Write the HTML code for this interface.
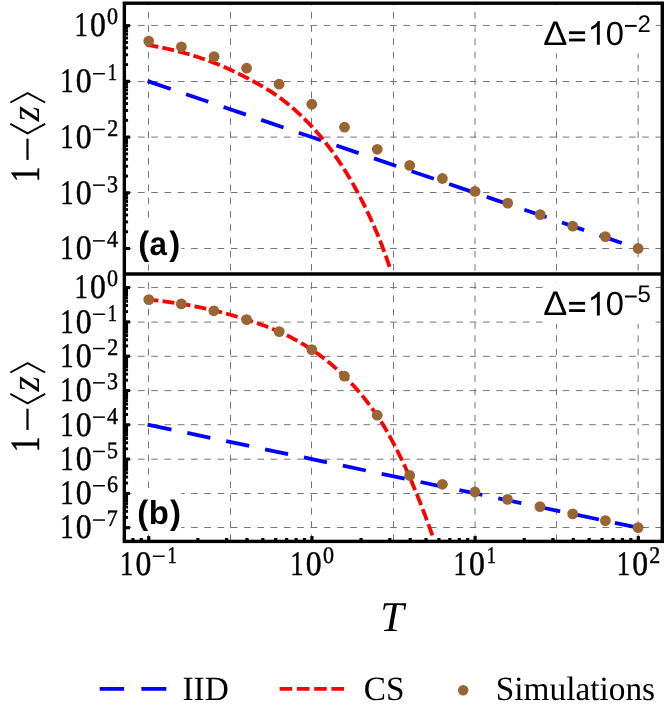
<!DOCTYPE html>
<html>
<head>
<meta charset="utf-8">
<title>Chart</title>
<style>
html, body { margin: 0; padding: 0; background: #ffffff; }
body { width: 664px; height: 719px; overflow: hidden; font-family: "Liberation Serif", serif; }
svg { display: block; will-change: transform; }
</style>
</head>
<body>
<svg width="664" height="719" viewBox="0 0 664 719" text-rendering="geometricPrecision">
<rect x="0" y="0" width="664" height="719" fill="#ffffff"/>
<g stroke="#767676" stroke-width="1" stroke-dasharray="6.7 6.57" fill="none">
<line x1="124.65" y1="25.45" x2="662.30" y2="25.45"/>
<line x1="124.65" y1="81.50" x2="662.30" y2="81.50"/>
<line x1="124.65" y1="137.10" x2="662.30" y2="137.10"/>
<line x1="124.65" y1="192.50" x2="662.30" y2="192.50"/>
<line x1="124.65" y1="248.50" x2="662.30" y2="248.50"/>
<line x1="124.65" y1="287.45" x2="662.30" y2="287.45"/>
<line x1="124.65" y1="322.10" x2="662.30" y2="322.10"/>
<line x1="124.65" y1="356.30" x2="662.30" y2="356.30"/>
<line x1="124.65" y1="390.60" x2="662.30" y2="390.60"/>
<line x1="124.65" y1="424.70" x2="662.30" y2="424.70"/>
<line x1="124.65" y1="459.20" x2="662.30" y2="459.20"/>
<line x1="124.65" y1="493.50" x2="662.30" y2="493.50"/>
<line x1="124.65" y1="527.50" x2="662.30" y2="527.50"/>
<line x1="148.47" y1="3.20" x2="148.47" y2="274.00" stroke-dashoffset="4.57"/>
<line x1="148.47" y1="274.00" x2="148.47" y2="541.40" stroke-dashoffset="4.97"/>
<line x1="230.48" y1="3.20" x2="230.48" y2="274.00" stroke-dashoffset="4.57"/>
<line x1="230.48" y1="274.00" x2="230.48" y2="541.40" stroke-dashoffset="4.97"/>
<line x1="311.50" y1="3.20" x2="311.50" y2="274.00" stroke-dashoffset="4.57"/>
<line x1="311.50" y1="274.00" x2="311.50" y2="541.40" stroke-dashoffset="4.97"/>
<line x1="393.47" y1="3.20" x2="393.47" y2="274.00" stroke-dashoffset="4.57"/>
<line x1="393.47" y1="274.00" x2="393.47" y2="541.40" stroke-dashoffset="4.97"/>
<line x1="475.00" y1="3.20" x2="475.00" y2="274.00" stroke-dashoffset="4.57"/>
<line x1="475.00" y1="274.00" x2="475.00" y2="541.40" stroke-dashoffset="4.97"/>
<line x1="556.46" y1="3.20" x2="556.46" y2="274.00" stroke-dashoffset="4.57"/>
<line x1="556.46" y1="274.00" x2="556.46" y2="541.40" stroke-dashoffset="4.97"/>
<line x1="638.15" y1="3.20" x2="638.15" y2="274.00" stroke-dashoffset="4.57"/>
<line x1="638.15" y1="274.00" x2="638.15" y2="541.40" stroke-dashoffset="4.97"/>
</g>
<g fill="none" stroke-width="3.8" stroke-linecap="square">
<path d="M147.60 81.08 L149.45 81.71" stroke="#0000ff" stroke-linecap="butt"/>
<path d="M148.45 81.37 L637.99 248.53" stroke="#0000ff" stroke-linecap="butt" stroke-dasharray="23.5 16.22"/>
<path d="M147.57 424.61 L149.45 425.01" stroke="#0000ff" stroke-linecap="butt"/>
<path d="M148.45 424.80 L637.99 527.70" stroke="#0000ff" stroke-linecap="butt" stroke-dasharray="23.5 16.22"/>
<path d="M148.45 45.14 L149.18 45.26 L149.90 45.38 L150.63 45.50 L151.35 45.62 L152.08 45.75 L152.80 45.87 L153.53 46.00 L154.25 46.13 L154.98 46.27 L155.70 46.40 L156.43 46.54 L157.15 46.68 L157.88 46.82 L158.60 46.96 L159.33 47.10 L160.05 47.25 L160.78 47.39 L161.50 47.54 L162.23 47.69 L162.95 47.85 L163.68 48.00 L164.40 48.16 L165.13 48.31 L165.85 48.47 L166.58 48.63 L167.30 48.79 L168.03 48.96 L168.75 49.12 L169.48 49.29 L170.20 49.46 L170.93 49.63 L171.65 49.80 L172.38 49.97 L173.10 50.14 L173.83 50.32 L174.55 50.49 L175.28 50.67 L176.00 50.85 L176.73 51.03 L177.45 51.21 L178.18 51.39 L178.90 51.57 L179.63 51.76 L180.35 51.94 L181.08 52.13 L181.80 52.32 L182.53 52.51 L183.26 52.70 L183.98 52.89 L184.71 53.09 L185.43 53.29 L186.16 53.49 L186.88 53.70 L187.61 53.91 L188.33 54.11 L189.06 54.33 L189.78 54.54 L190.51 54.76 L191.23 54.97 L191.96 55.19 L192.68 55.42 L193.41 55.64 L194.13 55.87 L194.86 56.09 L195.58 56.32 L196.31 56.56 L197.03 56.79 L197.76 57.03 L198.48 57.27 L199.21 57.51 L199.93 57.75 L200.66 57.99 L201.38 58.24 L202.11 58.49 L202.83 58.74 L203.56 58.99 L204.28 59.24 L205.01 59.50 L205.73 59.75 L206.46 60.01 L207.18 60.27 L207.91 60.53 L208.63 60.80 L209.36 61.06 L210.08 61.33 L210.81 61.60 L211.53 61.87 L212.26 62.14 L212.98 62.41 L213.71 62.68 L214.43 62.96 L215.16 63.24 L215.89 63.52 L216.61 63.81 L217.34 64.10 L218.06 64.39 L218.79 64.68 L219.51 64.98 L220.24 65.28 L220.96 65.58 L221.69 65.89 L222.41 66.20 L223.14 66.51 L223.86 66.82 L224.59 67.14 L225.31 67.46 L226.04 67.78 L226.76 68.10 L227.49 68.43 L228.21 68.75 L228.94 69.09 L229.66 69.42 L230.39 69.75 L231.11 70.09 L231.84 70.43 L232.56 70.77 L233.29 71.12 L234.01 71.46 L234.74 71.81 L235.46 72.16 L236.19 72.51 L236.91 72.87 L237.64 73.22 L238.36 73.58 L239.09 73.94 L239.81 74.30 L240.54 74.66 L241.26 75.03 L241.99 75.39 L242.71 75.76 L243.44 76.13 L244.16 76.50 L244.89 76.88 L245.61 77.25 L246.34 77.62 L247.06 78.00 L247.79 78.38 L248.51 78.76 L249.24 79.14 L249.97 79.52 L250.69 79.90 L251.42 80.29 L252.14 80.68 L252.87 81.07 L253.59 81.46 L254.32 81.85 L255.04 82.25 L255.77 82.65 L256.49 83.05 L257.22 83.45 L257.94 83.86 L258.67 84.26 L259.39 84.67 L260.12 85.09 L260.84 85.50 L261.57 85.92 L262.29 86.35 L263.02 86.77 L263.74 87.20 L264.47 87.63 L265.19 88.07 L265.92 88.51 L266.64 88.95 L267.37 89.40 L268.09 89.85 L268.82 90.30 L269.54 90.76 L270.27 91.22 L270.99 91.69 L271.72 92.16 L272.44 92.63 L273.17 93.11 L273.89 93.59 L274.62 94.08 L275.34 94.57 L276.07 95.07 L276.79 95.57 L277.52 96.08 L278.24 96.59 L278.97 97.11 L279.69 97.63 L280.42 98.16 L281.14 98.70 L281.87 99.24 L282.60 99.78 L283.32 100.34 L284.05 100.89 L284.77 101.46 L285.50 102.03 L286.22 102.60 L286.95 103.19 L287.67 103.77 L288.40 104.37 L289.12 104.97 L289.85 105.57 L290.57 106.18 L291.30 106.80 L292.02 107.42 L292.75 108.05 L293.47 108.68 L294.20 109.32 L294.92 109.97 L295.65 110.62 L296.37 111.28 L297.10 111.94 L297.82 112.61 L298.55 113.28 L299.27 113.96 L300.00 114.64 L300.72 115.33 L301.45 116.03 L302.17 116.73 L302.90 117.44 L303.62 118.15 L304.35 118.87 L305.07 119.59 L305.80 120.32 L306.52 121.05 L307.25 121.79 L307.97 122.53 L308.70 123.28 L309.42 124.04 L310.15 124.80 L310.87 125.56 L311.60 126.34 L312.32 127.11 L313.05 127.90 L313.77 128.69 L314.50 129.49 L315.22 130.30 L315.95 131.12 L316.68 131.95 L317.40 132.78 L318.13 133.62 L318.85 134.47 L319.58 135.33 L320.30 136.20 L321.03 137.07 L321.75 137.96 L322.48 138.85 L323.20 139.75 L323.93 140.65 L324.65 141.57 L325.38 142.49 L326.10 143.42 L326.83 144.36 L327.55 145.31 L328.28 146.27 L329.00 147.23 L329.73 148.20 L330.45 149.18 L331.18 150.17 L331.90 151.17 L332.63 152.17 L333.35 153.18 L334.08 154.21 L334.80 155.24 L335.53 156.27 L336.25 157.32 L336.98 158.37 L337.70 159.43 L338.43 160.50 L339.15 161.58 L339.88 162.67 L340.60 163.76 L341.33 164.87 L342.05 165.98 L342.78 167.10 L343.50 168.22 L344.23 169.36 L344.95 170.50 L345.68 171.66 L346.40 172.83 L347.13 174.01 L347.85 175.20 L348.58 176.40 L349.30 177.61 L350.03 178.83 L350.76 180.07 L351.48 181.32 L352.21 182.58 L352.93 183.85 L353.66 185.13 L354.38 186.43 L355.11 187.73 L355.83 189.05 L356.56 190.38 L357.28 191.72 L358.01 193.08 L358.73 194.45 L359.46 195.83 L360.18 197.22 L360.91 198.62 L361.63 200.04 L362.36 201.47 L363.08 202.91 L363.81 204.37 L364.53 205.84 L365.26 207.32 L365.98 208.81 L366.71 210.32 L367.43 211.84 L368.16 213.38 L368.88 214.92 L369.61 216.48 L370.33 218.06 L371.06 219.64 L371.78 221.24 L372.51 222.86 L373.23 224.49 L373.96 226.13 L374.68 227.78 L375.41 229.45 L376.13 231.14 L376.86 232.83 L377.58 234.55 L378.31 236.30 L379.03 238.08 L379.76 239.88 L380.48 241.72 L381.21 243.58 L381.93 245.47 L382.66 247.38 L383.39 249.32 L384.11 251.29 L384.84 253.28 L385.56 255.29 L386.29 257.33 L387.01 259.39 L387.74 261.47 L388.46 263.57 L389.19 265.70 L389.91 267.84 L390.64 270.00 L391.13 271.50" stroke="#ff0000" stroke-dasharray="8.100000000000001 7.97" stroke-dashoffset="0"/>
<path d="M148.45 299.60 L149.18 299.67 L149.90 299.74 L150.63 299.82 L151.35 299.89 L152.08 299.97 L152.80 300.05 L153.53 300.13 L154.25 300.21 L154.98 300.29 L155.70 300.37 L156.43 300.46 L157.15 300.54 L157.88 300.63 L158.60 300.72 L159.33 300.81 L160.05 300.89 L160.78 300.99 L161.50 301.08 L162.23 301.17 L162.95 301.26 L163.68 301.36 L164.40 301.45 L165.13 301.55 L165.85 301.65 L166.58 301.75 L167.30 301.85 L168.03 301.95 L168.75 302.05 L169.48 302.15 L170.20 302.25 L170.93 302.36 L171.65 302.46 L172.38 302.57 L173.10 302.68 L173.83 302.78 L174.55 302.89 L175.28 303.00 L176.00 303.11 L176.73 303.22 L177.45 303.33 L178.18 303.44 L178.90 303.56 L179.63 303.67 L180.35 303.78 L181.08 303.90 L181.80 304.01 L182.53 304.13 L183.26 304.25 L183.98 304.37 L184.71 304.49 L185.43 304.62 L186.16 304.74 L186.88 304.87 L187.61 304.99 L188.33 305.12 L189.06 305.25 L189.78 305.38 L190.51 305.52 L191.23 305.65 L191.96 305.79 L192.68 305.92 L193.41 306.06 L194.13 306.20 L194.86 306.34 L195.58 306.48 L196.31 306.63 L197.03 306.77 L197.76 306.92 L198.48 307.06 L199.21 307.21 L199.93 307.36 L200.66 307.51 L201.38 307.66 L202.11 307.81 L202.83 307.97 L203.56 308.12 L204.28 308.28 L205.01 308.44 L205.73 308.59 L206.46 308.75 L207.18 308.91 L207.91 309.07 L208.63 309.24 L209.36 309.40 L210.08 309.56 L210.81 309.73 L211.53 309.89 L212.26 310.06 L212.98 310.23 L213.71 310.40 L214.43 310.57 L215.16 310.74 L215.89 310.91 L216.61 311.09 L217.34 311.27 L218.06 311.45 L218.79 311.63 L219.51 311.81 L220.24 312.00 L220.96 312.18 L221.69 312.37 L222.41 312.56 L223.14 312.75 L223.86 312.94 L224.59 313.14 L225.31 313.33 L226.04 313.53 L226.76 313.73 L227.49 313.93 L228.21 314.13 L228.94 314.34 L229.66 314.54 L230.39 314.75 L231.11 314.96 L231.84 315.17 L232.56 315.38 L233.29 315.59 L234.01 315.80 L234.74 316.02 L235.46 316.23 L236.19 316.45 L236.91 316.67 L237.64 316.88 L238.36 317.10 L239.09 317.33 L239.81 317.55 L240.54 317.77 L241.26 318.00 L241.99 318.22 L242.71 318.45 L243.44 318.68 L244.16 318.90 L244.89 319.13 L245.61 319.36 L246.34 319.59 L247.06 319.83 L247.79 320.06 L248.51 320.29 L249.24 320.53 L249.97 320.76 L250.69 321.00 L251.42 321.24 L252.14 321.47 L252.87 321.71 L253.59 321.95 L254.32 322.20 L255.04 322.44 L255.77 322.69 L256.49 322.93 L257.22 323.18 L257.94 323.43 L258.67 323.68 L259.39 323.93 L260.12 324.19 L260.84 324.45 L261.57 324.70 L262.29 324.96 L263.02 325.23 L263.74 325.49 L264.47 325.76 L265.19 326.02 L265.92 326.29 L266.64 326.57 L267.37 326.84 L268.09 327.12 L268.82 327.40 L269.54 327.68 L270.27 327.96 L270.99 328.25 L271.72 328.54 L272.44 328.83 L273.17 329.13 L273.89 329.43 L274.62 329.73 L275.34 330.03 L276.07 330.33 L276.79 330.64 L277.52 330.96 L278.24 331.27 L278.97 331.59 L279.69 331.91 L280.42 332.24 L281.14 332.57 L281.87 332.90 L282.60 333.23 L283.32 333.57 L284.05 333.92 L284.77 334.27 L285.50 334.62 L286.22 334.97 L286.95 335.33 L287.67 335.69 L288.40 336.06 L289.12 336.43 L289.85 336.80 L290.57 337.17 L291.30 337.55 L292.02 337.94 L292.75 338.32 L293.47 338.71 L294.20 339.11 L294.92 339.51 L295.65 339.91 L296.37 340.31 L297.10 340.72 L297.82 341.13 L298.55 341.54 L299.27 341.96 L300.00 342.38 L300.72 342.81 L301.45 343.24 L302.17 343.67 L302.90 344.10 L303.62 344.54 L304.35 344.98 L305.07 345.43 L305.80 345.87 L306.52 346.33 L307.25 346.78 L307.97 347.24 L308.70 347.70 L309.42 348.17 L310.15 348.63 L310.87 349.11 L311.60 349.58 L312.32 350.06 L313.05 350.54 L313.77 351.03 L314.50 351.52 L315.22 352.02 L315.95 352.53 L316.68 353.03 L317.40 353.55 L318.13 354.07 L318.85 354.59 L319.58 355.12 L320.30 355.65 L321.03 356.19 L321.75 356.73 L322.48 357.28 L323.20 357.83 L323.93 358.39 L324.65 358.96 L325.38 359.52 L326.10 360.10 L326.83 360.68 L327.55 361.26 L328.28 361.85 L329.00 362.44 L329.73 363.04 L330.45 363.64 L331.18 364.25 L331.90 364.87 L332.63 365.48 L333.35 366.11 L334.08 366.74 L334.80 367.37 L335.53 368.01 L336.25 368.65 L336.98 369.30 L337.70 369.95 L338.43 370.61 L339.15 371.28 L339.88 371.95 L340.60 372.62 L341.33 373.30 L342.05 373.98 L342.78 374.67 L343.50 375.37 L344.23 376.06 L344.95 376.77 L345.68 377.48 L346.40 378.20 L347.13 378.93 L347.85 379.66 L348.58 380.40 L349.30 381.14 L350.03 381.90 L350.76 382.66 L351.48 383.43 L352.21 384.20 L352.93 384.98 L353.66 385.77 L354.38 386.57 L355.11 387.37 L355.83 388.19 L356.56 389.00 L357.28 389.83 L358.01 390.67 L358.73 391.51 L359.46 392.36 L360.18 393.21 L360.91 394.08 L361.63 394.95 L362.36 395.83 L363.08 396.72 L363.81 397.62 L364.53 398.52 L365.26 399.43 L365.98 400.35 L366.71 401.28 L367.43 402.22 L368.16 403.16 L368.88 404.11 L369.61 405.07 L370.33 406.04 L371.06 407.02 L371.78 408.00 L372.51 409.00 L373.23 410.00 L373.96 411.01 L374.68 412.03 L375.41 413.06 L376.13 414.09 L376.86 415.14 L377.58 416.20 L378.31 417.27 L379.03 418.37 L379.76 419.48 L380.48 420.61 L381.21 421.75 L381.93 422.92 L382.66 424.09 L383.39 425.29 L384.11 426.50 L384.84 427.72 L385.56 428.96 L386.29 430.22 L387.01 431.48 L387.74 432.77 L388.46 434.06 L389.19 435.37 L389.91 436.69 L390.64 438.02 L391.36 439.36 L392.09 440.71 L392.81 442.08 L393.54 443.46 L394.26 444.84 L394.99 446.24 L395.71 447.64 L396.44 449.05 L397.16 450.48 L397.89 451.91 L398.61 453.35 L399.34 454.79 L400.06 456.25 L400.79 457.71 L401.51 459.17 L402.24 460.66 L402.96 462.16 L403.69 463.69 L404.41 465.25 L405.14 466.82 L405.86 468.42 L406.59 470.03 L407.31 471.67 L408.04 473.32 L408.76 474.98 L409.49 476.66 L410.21 478.36 L410.94 480.06 L411.66 481.78 L412.39 483.51 L413.11 485.25 L413.84 487.00 L414.56 488.75 L415.29 490.52 L416.01 492.28 L416.74 494.05 L417.47 495.84 L418.19 497.64 L418.92 499.45 L419.64 501.28 L420.37 503.12 L421.09 504.97 L421.82 506.84 L422.54 508.72 L423.27 510.62 L423.99 512.52 L424.72 514.44 L425.44 516.38 L426.17 518.32 L426.89 520.27 L427.62 522.24 L428.34 524.22 L429.07 526.21 L429.79 528.21 L430.52 530.22 L431.24 532.26 L431.97 534.32 L432.69 536.39 L433.42 538.49 L433.46 538.60" stroke="#ff0000" stroke-dasharray="8.100000000000001 8.070" stroke-dashoffset="0"/>
</g>
<g fill="#996633">
<circle cx="148.7" cy="41.1" r="5.4"/>
<circle cx="181.4" cy="46.8" r="5.4"/>
<circle cx="214.1" cy="56.6" r="5.4"/>
<circle cx="246.6" cy="68.2" r="5.4"/>
<circle cx="279.1" cy="84.2" r="5.4"/>
<circle cx="311.8" cy="104.2" r="5.4"/>
<circle cx="344.5" cy="127.2" r="5.4"/>
<circle cx="377.3" cy="149.3" r="5.4"/>
<circle cx="409.7" cy="165.4" r="5.4"/>
<circle cx="442.4" cy="178.5" r="5.4"/>
<circle cx="475.0" cy="191.4" r="5.4"/>
<circle cx="507.7" cy="203.1" r="5.4"/>
<circle cx="540.2" cy="214.6" r="5.4"/>
<circle cx="572.7" cy="226.1" r="5.4"/>
<circle cx="605.4" cy="236.6" r="5.4"/>
<circle cx="638.1" cy="248.5" r="5.4"/>
<circle cx="148.8" cy="299.6" r="5.4"/>
<circle cx="181.3" cy="303.9" r="5.4"/>
<circle cx="213.8" cy="310.8" r="5.4"/>
<circle cx="246.6" cy="319.6" r="5.4"/>
<circle cx="279.2" cy="331.6" r="5.4"/>
<circle cx="311.8" cy="349.6" r="5.4"/>
<circle cx="344.4" cy="376.1" r="5.4"/>
<circle cx="377.2" cy="415.2" r="5.4"/>
<circle cx="409.7" cy="475.4" r="5.4"/>
<circle cx="442.4" cy="484.3" r="5.4"/>
<circle cx="474.9" cy="492.0" r="5.4"/>
<circle cx="507.5" cy="499.4" r="5.4"/>
<circle cx="540.0" cy="506.6" r="5.4"/>
<circle cx="572.7" cy="513.9" r="5.4"/>
<circle cx="605.4" cy="520.6" r="5.4"/>
<circle cx="638.1" cy="527.6" r="5.4"/>
</g>
<g fill="#ffffff">
<rect x="133" y="221.5" width="48.3" height="43"/>
<rect x="133" y="489.9" width="48.3" height="43"/>
<rect x="542.8" y="11.8" width="112.7" height="41.4"/>
<rect x="542.8" y="282.5" width="112.7" height="41.5"/>
</g>
<g stroke="#000" fill="none">
<line x1="125.05" y1="25.65" x2="130.05" y2="25.65" stroke-width="3.1"/>
<line x1="125.05" y1="64.60" x2="128.05" y2="64.60" stroke-width="2.9"/>
<line x1="125.05" y1="54.78" x2="128.05" y2="54.78" stroke-width="2.9"/>
<line x1="125.05" y1="47.82" x2="128.05" y2="47.82" stroke-width="2.9"/>
<line x1="125.05" y1="42.42" x2="128.05" y2="42.42" stroke-width="2.9"/>
<line x1="125.05" y1="38.01" x2="128.05" y2="38.01" stroke-width="2.9"/>
<line x1="125.05" y1="34.28" x2="128.05" y2="34.28" stroke-width="2.9"/>
<line x1="125.05" y1="31.05" x2="128.05" y2="31.05" stroke-width="2.9"/>
<line x1="125.05" y1="28.20" x2="128.05" y2="28.20" stroke-width="2.9"/>
<line x1="125.05" y1="81.37" x2="130.05" y2="81.37" stroke-width="3.1"/>
<line x1="125.05" y1="120.32" x2="128.05" y2="120.32" stroke-width="2.9"/>
<line x1="125.05" y1="110.50" x2="128.05" y2="110.50" stroke-width="2.9"/>
<line x1="125.05" y1="103.54" x2="128.05" y2="103.54" stroke-width="2.9"/>
<line x1="125.05" y1="98.14" x2="128.05" y2="98.14" stroke-width="2.9"/>
<line x1="125.05" y1="93.73" x2="128.05" y2="93.73" stroke-width="2.9"/>
<line x1="125.05" y1="90.00" x2="128.05" y2="90.00" stroke-width="2.9"/>
<line x1="125.05" y1="86.77" x2="128.05" y2="86.77" stroke-width="2.9"/>
<line x1="125.05" y1="83.92" x2="128.05" y2="83.92" stroke-width="2.9"/>
<line x1="125.05" y1="137.09" x2="130.05" y2="137.09" stroke-width="3.1"/>
<line x1="125.05" y1="176.04" x2="128.05" y2="176.04" stroke-width="2.9"/>
<line x1="125.05" y1="166.22" x2="128.05" y2="166.22" stroke-width="2.9"/>
<line x1="125.05" y1="159.26" x2="128.05" y2="159.26" stroke-width="2.9"/>
<line x1="125.05" y1="153.86" x2="128.05" y2="153.86" stroke-width="2.9"/>
<line x1="125.05" y1="149.45" x2="128.05" y2="149.45" stroke-width="2.9"/>
<line x1="125.05" y1="145.72" x2="128.05" y2="145.72" stroke-width="2.9"/>
<line x1="125.05" y1="142.49" x2="128.05" y2="142.49" stroke-width="2.9"/>
<line x1="125.05" y1="139.64" x2="128.05" y2="139.64" stroke-width="2.9"/>
<line x1="125.05" y1="192.81" x2="130.05" y2="192.81" stroke-width="3.1"/>
<line x1="125.05" y1="231.76" x2="128.05" y2="231.76" stroke-width="2.9"/>
<line x1="125.05" y1="221.94" x2="128.05" y2="221.94" stroke-width="2.9"/>
<line x1="125.05" y1="214.98" x2="128.05" y2="214.98" stroke-width="2.9"/>
<line x1="125.05" y1="209.58" x2="128.05" y2="209.58" stroke-width="2.9"/>
<line x1="125.05" y1="205.17" x2="128.05" y2="205.17" stroke-width="2.9"/>
<line x1="125.05" y1="201.44" x2="128.05" y2="201.44" stroke-width="2.9"/>
<line x1="125.05" y1="198.21" x2="128.05" y2="198.21" stroke-width="2.9"/>
<line x1="125.05" y1="195.36" x2="128.05" y2="195.36" stroke-width="2.9"/>
<line x1="125.05" y1="248.53" x2="130.05" y2="248.53" stroke-width="3.1"/>
<line x1="125.05" y1="287.60" x2="130.05" y2="287.60" stroke-width="3.1"/>
<line x1="125.05" y1="311.57" x2="128.05" y2="311.57" stroke-width="2.9"/>
<line x1="125.05" y1="305.53" x2="128.05" y2="305.53" stroke-width="2.9"/>
<line x1="125.05" y1="301.25" x2="128.05" y2="301.25" stroke-width="2.9"/>
<line x1="125.05" y1="297.93" x2="128.05" y2="297.93" stroke-width="2.9"/>
<line x1="125.05" y1="295.21" x2="128.05" y2="295.21" stroke-width="2.9"/>
<line x1="125.05" y1="292.91" x2="128.05" y2="292.91" stroke-width="2.9"/>
<line x1="125.05" y1="290.92" x2="128.05" y2="290.92" stroke-width="2.9"/>
<line x1="125.05" y1="289.17" x2="128.05" y2="289.17" stroke-width="2.9"/>
<line x1="125.05" y1="321.90" x2="130.05" y2="321.90" stroke-width="3.1"/>
<line x1="125.05" y1="345.87" x2="128.05" y2="345.87" stroke-width="2.9"/>
<line x1="125.05" y1="339.83" x2="128.05" y2="339.83" stroke-width="2.9"/>
<line x1="125.05" y1="335.55" x2="128.05" y2="335.55" stroke-width="2.9"/>
<line x1="125.05" y1="332.23" x2="128.05" y2="332.23" stroke-width="2.9"/>
<line x1="125.05" y1="329.51" x2="128.05" y2="329.51" stroke-width="2.9"/>
<line x1="125.05" y1="327.21" x2="128.05" y2="327.21" stroke-width="2.9"/>
<line x1="125.05" y1="325.22" x2="128.05" y2="325.22" stroke-width="2.9"/>
<line x1="125.05" y1="323.47" x2="128.05" y2="323.47" stroke-width="2.9"/>
<line x1="125.05" y1="356.20" x2="130.05" y2="356.20" stroke-width="3.1"/>
<line x1="125.05" y1="380.17" x2="128.05" y2="380.17" stroke-width="2.9"/>
<line x1="125.05" y1="374.13" x2="128.05" y2="374.13" stroke-width="2.9"/>
<line x1="125.05" y1="369.85" x2="128.05" y2="369.85" stroke-width="2.9"/>
<line x1="125.05" y1="366.53" x2="128.05" y2="366.53" stroke-width="2.9"/>
<line x1="125.05" y1="363.81" x2="128.05" y2="363.81" stroke-width="2.9"/>
<line x1="125.05" y1="361.51" x2="128.05" y2="361.51" stroke-width="2.9"/>
<line x1="125.05" y1="359.52" x2="128.05" y2="359.52" stroke-width="2.9"/>
<line x1="125.05" y1="357.77" x2="128.05" y2="357.77" stroke-width="2.9"/>
<line x1="125.05" y1="390.50" x2="130.05" y2="390.50" stroke-width="3.1"/>
<line x1="125.05" y1="414.47" x2="128.05" y2="414.47" stroke-width="2.9"/>
<line x1="125.05" y1="408.43" x2="128.05" y2="408.43" stroke-width="2.9"/>
<line x1="125.05" y1="404.15" x2="128.05" y2="404.15" stroke-width="2.9"/>
<line x1="125.05" y1="400.83" x2="128.05" y2="400.83" stroke-width="2.9"/>
<line x1="125.05" y1="398.11" x2="128.05" y2="398.11" stroke-width="2.9"/>
<line x1="125.05" y1="395.81" x2="128.05" y2="395.81" stroke-width="2.9"/>
<line x1="125.05" y1="393.82" x2="128.05" y2="393.82" stroke-width="2.9"/>
<line x1="125.05" y1="392.07" x2="128.05" y2="392.07" stroke-width="2.9"/>
<line x1="125.05" y1="424.80" x2="130.05" y2="424.80" stroke-width="3.1"/>
<line x1="125.05" y1="448.77" x2="128.05" y2="448.77" stroke-width="2.9"/>
<line x1="125.05" y1="442.73" x2="128.05" y2="442.73" stroke-width="2.9"/>
<line x1="125.05" y1="438.45" x2="128.05" y2="438.45" stroke-width="2.9"/>
<line x1="125.05" y1="435.13" x2="128.05" y2="435.13" stroke-width="2.9"/>
<line x1="125.05" y1="432.41" x2="128.05" y2="432.41" stroke-width="2.9"/>
<line x1="125.05" y1="430.11" x2="128.05" y2="430.11" stroke-width="2.9"/>
<line x1="125.05" y1="428.12" x2="128.05" y2="428.12" stroke-width="2.9"/>
<line x1="125.05" y1="426.37" x2="128.05" y2="426.37" stroke-width="2.9"/>
<line x1="125.05" y1="459.10" x2="130.05" y2="459.10" stroke-width="3.1"/>
<line x1="125.05" y1="483.07" x2="128.05" y2="483.07" stroke-width="2.9"/>
<line x1="125.05" y1="477.03" x2="128.05" y2="477.03" stroke-width="2.9"/>
<line x1="125.05" y1="472.75" x2="128.05" y2="472.75" stroke-width="2.9"/>
<line x1="125.05" y1="469.43" x2="128.05" y2="469.43" stroke-width="2.9"/>
<line x1="125.05" y1="466.71" x2="128.05" y2="466.71" stroke-width="2.9"/>
<line x1="125.05" y1="464.41" x2="128.05" y2="464.41" stroke-width="2.9"/>
<line x1="125.05" y1="462.42" x2="128.05" y2="462.42" stroke-width="2.9"/>
<line x1="125.05" y1="460.67" x2="128.05" y2="460.67" stroke-width="2.9"/>
<line x1="125.05" y1="493.40" x2="130.05" y2="493.40" stroke-width="3.1"/>
<line x1="125.05" y1="517.37" x2="128.05" y2="517.37" stroke-width="2.9"/>
<line x1="125.05" y1="511.33" x2="128.05" y2="511.33" stroke-width="2.9"/>
<line x1="125.05" y1="507.05" x2="128.05" y2="507.05" stroke-width="2.9"/>
<line x1="125.05" y1="503.73" x2="128.05" y2="503.73" stroke-width="2.9"/>
<line x1="125.05" y1="501.01" x2="128.05" y2="501.01" stroke-width="2.9"/>
<line x1="125.05" y1="498.71" x2="128.05" y2="498.71" stroke-width="2.9"/>
<line x1="125.05" y1="496.72" x2="128.05" y2="496.72" stroke-width="2.9"/>
<line x1="125.05" y1="494.97" x2="128.05" y2="494.97" stroke-width="2.9"/>
<line x1="125.05" y1="527.70" x2="130.05" y2="527.70" stroke-width="3.1"/>
<line x1="132.94" y1="540.70" x2="132.94" y2="538.00" stroke-width="3.2"/>
<line x1="141.28" y1="540.70" x2="141.28" y2="538.00" stroke-width="3.2"/>
<line x1="148.75" y1="540.70" x2="148.75" y2="536.10" stroke-width="3.2"/>
<line x1="197.87" y1="540.70" x2="197.87" y2="538.00" stroke-width="3.2"/>
<line x1="226.61" y1="540.70" x2="226.61" y2="538.00" stroke-width="3.2"/>
<line x1="246.99" y1="540.70" x2="246.99" y2="538.00" stroke-width="3.2"/>
<line x1="262.81" y1="540.70" x2="262.81" y2="538.00" stroke-width="3.2"/>
<line x1="275.73" y1="540.70" x2="275.73" y2="538.00" stroke-width="3.2"/>
<line x1="286.65" y1="540.70" x2="286.65" y2="538.00" stroke-width="3.2"/>
<line x1="296.12" y1="540.70" x2="296.12" y2="538.00" stroke-width="3.2"/>
<line x1="304.46" y1="540.70" x2="304.46" y2="538.00" stroke-width="3.2"/>
<line x1="311.93" y1="540.70" x2="311.93" y2="536.10" stroke-width="3.2"/>
<line x1="361.05" y1="540.70" x2="361.05" y2="538.00" stroke-width="3.2"/>
<line x1="389.79" y1="540.70" x2="389.79" y2="538.00" stroke-width="3.2"/>
<line x1="410.17" y1="540.70" x2="410.17" y2="538.00" stroke-width="3.2"/>
<line x1="425.99" y1="540.70" x2="425.99" y2="538.00" stroke-width="3.2"/>
<line x1="438.91" y1="540.70" x2="438.91" y2="538.00" stroke-width="3.2"/>
<line x1="449.83" y1="540.70" x2="449.83" y2="538.00" stroke-width="3.2"/>
<line x1="459.30" y1="540.70" x2="459.30" y2="538.00" stroke-width="3.2"/>
<line x1="467.64" y1="540.70" x2="467.64" y2="538.00" stroke-width="3.2"/>
<line x1="475.11" y1="540.70" x2="475.11" y2="536.10" stroke-width="3.2"/>
<line x1="524.23" y1="540.70" x2="524.23" y2="538.00" stroke-width="3.2"/>
<line x1="552.97" y1="540.70" x2="552.97" y2="538.00" stroke-width="3.2"/>
<line x1="573.35" y1="540.70" x2="573.35" y2="538.00" stroke-width="3.2"/>
<line x1="589.17" y1="540.70" x2="589.17" y2="538.00" stroke-width="3.2"/>
<line x1="602.09" y1="540.70" x2="602.09" y2="538.00" stroke-width="3.2"/>
<line x1="613.01" y1="540.70" x2="613.01" y2="538.00" stroke-width="3.2"/>
<line x1="622.48" y1="540.70" x2="622.48" y2="538.00" stroke-width="3.2"/>
<line x1="630.82" y1="540.70" x2="630.82" y2="538.00" stroke-width="3.2"/>
<line x1="638.29" y1="540.70" x2="638.29" y2="536.10" stroke-width="3.2"/>
</g>
<g stroke="#000" stroke-width="3.4" fill="none" stroke-linejoin="miter">
<rect x="124.35" y="3.2" width="537.95" height="538.20"/>
<line x1="124.35" y1="274.0" x2="662.3" y2="274.0"/>
</g>
<g fill="#000">
<text font-family="'Liberation Serif', serif" stroke="#000" stroke-width="0.45" font-size="33.0" transform="translate(74.53 36.35) scale(0.8063999999999999 1.04)">1</text>
<text font-family="'Liberation Serif', serif" stroke="#000" stroke-width="0.45" font-size="33.0" transform="translate(90.03 36.35) scale(0.96 1.04)">0</text>
<text font-family="'Liberation Serif', serif" stroke="#000" stroke-width="0.45" font-size="22.935" transform="translate(107.10 24.35) scale(0.96 1.04)">0</text>
<text font-family="'Liberation Serif', serif" stroke="#000" stroke-width="0.45" font-size="33.0" transform="translate(60.18 92.07) scale(0.8063999999999999 1.04)">1</text>
<text font-family="'Liberation Serif', serif" stroke="#000" stroke-width="0.45" font-size="33.0" transform="translate(75.68 92.07) scale(0.96 1.04)">0</text>
<rect x="93.00" y="72.97" width="11.9" height="1.5" fill="#000"/>
<text font-family="'Liberation Serif', serif" stroke="#000" stroke-width="0.45" font-size="22.935" transform="translate(107.72 80.07) scale(0.8063999999999999 1.04)">1</text>
<text font-family="'Liberation Serif', serif" stroke="#000" stroke-width="0.45" font-size="33.0" transform="translate(60.18 147.79) scale(0.8063999999999999 1.04)">1</text>
<text font-family="'Liberation Serif', serif" stroke="#000" stroke-width="0.45" font-size="33.0" transform="translate(75.68 147.79) scale(0.96 1.04)">0</text>
<rect x="93.00" y="128.69" width="11.9" height="1.5" fill="#000"/>
<text font-family="'Liberation Serif', serif" stroke="#000" stroke-width="0.45" font-size="22.935" transform="translate(107.22 135.79) scale(0.96 1.04)">2</text>
<text font-family="'Liberation Serif', serif" stroke="#000" stroke-width="0.45" font-size="33.0" transform="translate(60.18 203.51) scale(0.8063999999999999 1.04)">1</text>
<text font-family="'Liberation Serif', serif" stroke="#000" stroke-width="0.45" font-size="33.0" transform="translate(75.68 203.51) scale(0.96 1.04)">0</text>
<rect x="93.00" y="184.41" width="11.9" height="1.5" fill="#000"/>
<text font-family="'Liberation Serif', serif" stroke="#000" stroke-width="0.45" font-size="22.935" transform="translate(107.00 191.51) scale(0.96 1.04)">3</text>
<text font-family="'Liberation Serif', serif" stroke="#000" stroke-width="0.45" font-size="33.0" transform="translate(60.18 259.23) scale(0.8063999999999999 1.04)">1</text>
<text font-family="'Liberation Serif', serif" stroke="#000" stroke-width="0.45" font-size="33.0" transform="translate(75.68 259.23) scale(0.96 1.04)">0</text>
<rect x="93.00" y="240.13" width="11.9" height="1.5" fill="#000"/>
<text font-family="'Liberation Serif', serif" stroke="#000" stroke-width="0.45" font-size="22.935" transform="translate(107.05 247.23) scale(0.96 1.04)">4</text>
<text font-family="'Liberation Serif', serif" stroke="#000" stroke-width="0.45" font-size="33.0" transform="translate(74.53 298.30) scale(0.8063999999999999 1.04)">1</text>
<text font-family="'Liberation Serif', serif" stroke="#000" stroke-width="0.45" font-size="33.0" transform="translate(90.03 298.30) scale(0.96 1.04)">0</text>
<text font-family="'Liberation Serif', serif" stroke="#000" stroke-width="0.45" font-size="22.935" transform="translate(107.10 286.30) scale(0.96 1.04)">0</text>
<text font-family="'Liberation Serif', serif" stroke="#000" stroke-width="0.45" font-size="33.0" transform="translate(60.18 332.60) scale(0.8063999999999999 1.04)">1</text>
<text font-family="'Liberation Serif', serif" stroke="#000" stroke-width="0.45" font-size="33.0" transform="translate(75.68 332.60) scale(0.96 1.04)">0</text>
<rect x="93.00" y="313.50" width="11.9" height="1.5" fill="#000"/>
<text font-family="'Liberation Serif', serif" stroke="#000" stroke-width="0.45" font-size="22.935" transform="translate(107.72 320.60) scale(0.8063999999999999 1.04)">1</text>
<text font-family="'Liberation Serif', serif" stroke="#000" stroke-width="0.45" font-size="33.0" transform="translate(60.18 366.90) scale(0.8063999999999999 1.04)">1</text>
<text font-family="'Liberation Serif', serif" stroke="#000" stroke-width="0.45" font-size="33.0" transform="translate(75.68 366.90) scale(0.96 1.04)">0</text>
<rect x="93.00" y="347.80" width="11.9" height="1.5" fill="#000"/>
<text font-family="'Liberation Serif', serif" stroke="#000" stroke-width="0.45" font-size="22.935" transform="translate(107.22 354.90) scale(0.96 1.04)">2</text>
<text font-family="'Liberation Serif', serif" stroke="#000" stroke-width="0.45" font-size="33.0" transform="translate(60.18 401.20) scale(0.8063999999999999 1.04)">1</text>
<text font-family="'Liberation Serif', serif" stroke="#000" stroke-width="0.45" font-size="33.0" transform="translate(75.68 401.20) scale(0.96 1.04)">0</text>
<rect x="93.00" y="382.10" width="11.9" height="1.5" fill="#000"/>
<text font-family="'Liberation Serif', serif" stroke="#000" stroke-width="0.45" font-size="22.935" transform="translate(107.00 389.20) scale(0.96 1.04)">3</text>
<text font-family="'Liberation Serif', serif" stroke="#000" stroke-width="0.45" font-size="33.0" transform="translate(60.18 435.50) scale(0.8063999999999999 1.04)">1</text>
<text font-family="'Liberation Serif', serif" stroke="#000" stroke-width="0.45" font-size="33.0" transform="translate(75.68 435.50) scale(0.96 1.04)">0</text>
<rect x="93.00" y="416.40" width="11.9" height="1.5" fill="#000"/>
<text font-family="'Liberation Serif', serif" stroke="#000" stroke-width="0.45" font-size="22.935" transform="translate(107.05 423.50) scale(0.96 1.04)">4</text>
<text font-family="'Liberation Serif', serif" stroke="#000" stroke-width="0.45" font-size="33.0" transform="translate(60.18 469.80) scale(0.8063999999999999 1.04)">1</text>
<text font-family="'Liberation Serif', serif" stroke="#000" stroke-width="0.45" font-size="33.0" transform="translate(75.68 469.80) scale(0.96 1.04)">0</text>
<rect x="93.00" y="450.70" width="11.9" height="1.5" fill="#000"/>
<text font-family="'Liberation Serif', serif" stroke="#000" stroke-width="0.45" font-size="22.935" transform="translate(106.89 457.80) scale(0.96 1.04)">5</text>
<text font-family="'Liberation Serif', serif" stroke="#000" stroke-width="0.45" font-size="33.0" transform="translate(60.18 504.10) scale(0.8063999999999999 1.04)">1</text>
<text font-family="'Liberation Serif', serif" stroke="#000" stroke-width="0.45" font-size="33.0" transform="translate(75.68 504.10) scale(0.96 1.04)">0</text>
<rect x="93.00" y="485.00" width="11.9" height="1.5" fill="#000"/>
<text font-family="'Liberation Serif', serif" stroke="#000" stroke-width="0.45" font-size="22.935" transform="translate(106.95 492.10) scale(0.96 1.04)">6</text>
<text font-family="'Liberation Serif', serif" stroke="#000" stroke-width="0.45" font-size="33.0" transform="translate(60.18 538.40) scale(0.8063999999999999 1.04)">1</text>
<text font-family="'Liberation Serif', serif" stroke="#000" stroke-width="0.45" font-size="33.0" transform="translate(75.68 538.40) scale(0.96 1.04)">0</text>
<rect x="93.00" y="519.30" width="11.9" height="1.5" fill="#000"/>
<text font-family="'Liberation Serif', serif" stroke="#000" stroke-width="0.45" font-size="22.935" transform="translate(106.69 526.40) scale(0.96 1.04)">7</text>
<text font-family="'Liberation Serif', serif" stroke="#000" stroke-width="0.45" font-size="33.0" transform="translate(119.98 574.60) scale(0.8063999999999999 1.04)">1</text>
<text font-family="'Liberation Serif', serif" stroke="#000" stroke-width="0.45" font-size="33.0" transform="translate(135.48 574.60) scale(0.96 1.04)">0</text>
<rect x="152.80" y="555.50" width="11.9" height="1.5" fill="#000"/>
<text font-family="'Liberation Serif', serif" stroke="#000" stroke-width="0.45" font-size="22.935" transform="translate(167.52 562.60) scale(0.8063999999999999 1.04)">1</text>
<text font-family="'Liberation Serif', serif" stroke="#000" stroke-width="0.45" font-size="33.0" transform="translate(290.31 574.60) scale(0.8063999999999999 1.04)">1</text>
<text font-family="'Liberation Serif', serif" stroke="#000" stroke-width="0.45" font-size="33.0" transform="translate(305.81 574.60) scale(0.96 1.04)">0</text>
<text font-family="'Liberation Serif', serif" stroke="#000" stroke-width="0.45" font-size="22.935" transform="translate(322.88 562.60) scale(0.96 1.04)">0</text>
<text font-family="'Liberation Serif', serif" stroke="#000" stroke-width="0.45" font-size="33.0" transform="translate(453.49 574.60) scale(0.8063999999999999 1.04)">1</text>
<text font-family="'Liberation Serif', serif" stroke="#000" stroke-width="0.45" font-size="33.0" transform="translate(468.99 574.60) scale(0.96 1.04)">0</text>
<text font-family="'Liberation Serif', serif" stroke="#000" stroke-width="0.45" font-size="22.935" transform="translate(486.68 562.60) scale(0.8063999999999999 1.04)">1</text>
<text font-family="'Liberation Serif', serif" stroke="#000" stroke-width="0.45" font-size="33.0" transform="translate(616.67 574.60) scale(0.8063999999999999 1.04)">1</text>
<text font-family="'Liberation Serif', serif" stroke="#000" stroke-width="0.45" font-size="33.0" transform="translate(632.17 574.60) scale(0.96 1.04)">0</text>
<text font-family="'Liberation Serif', serif" stroke="#000" stroke-width="0.45" font-size="22.935" transform="translate(649.36 562.60) scale(0.96 1.04)">2</text>
<text font-family="'Liberation Serif', serif" font-style="italic" font-size="42.4" transform="translate(380.13 631.00) scale(1.0 1.0)">T</text>
<g transform="translate(0 0)">
<g transform="translate(38.9 180.6) rotate(-90)">
<text font-family="'Liberation Serif', serif" stroke="#000" stroke-width="0.45" font-size="41.6" transform="translate(-1.70 0.00) scale(0.756 1.0)">1</text>
<text font-family="'Liberation Serif', serif" font-style="italic" font-size="41.6" transform="translate(59.02 0.00) scale(0.96 1.0)">z</text>
</g>
<rect x="26.4" y="138.7" width="2.2" height="21.2" fill="#000"/>
<g fill="none" stroke="#000" stroke-width="1.9" stroke-linejoin="miter" stroke-miterlimit="10">
<polyline points="10.3,123.9 27.6,133.3 45.2,123.9"/>
<polyline points="10.3,102.5 27.6,93.1 45.2,102.5"/>
</g>
</g>
<g transform="translate(0 270)">
<g transform="translate(38.9 180.6) rotate(-90)">
<text font-family="'Liberation Serif', serif" stroke="#000" stroke-width="0.45" font-size="41.6" transform="translate(-1.70 0.00) scale(0.756 1.0)">1</text>
<text font-family="'Liberation Serif', serif" font-style="italic" font-size="41.6" transform="translate(59.02 0.00) scale(0.96 1.0)">z</text>
</g>
<rect x="26.4" y="138.7" width="2.2" height="21.2" fill="#000"/>
<g fill="none" stroke="#000" stroke-width="1.9" stroke-linejoin="miter" stroke-miterlimit="10">
<polyline points="10.3,123.9 27.6,133.3 45.2,123.9"/>
<polyline points="10.3,102.5 27.6,93.1 45.2,102.5"/>
</g>
</g>
<text font-family="'Liberation Serif', serif" font-size="33.0" transform="translate(182.50 699.80) scale(1.01 1.03)">IID</text>
<text font-family="'Liberation Serif', serif" font-size="33.0" transform="translate(363.83 699.80) scale(1.01 1.03)">CS</text>
<text font-family="'Liberation Serif', serif" font-size="33.0" transform="translate(495.77 699.80) scale(1.01 1.03)">Simulations</text>
</g>
<g stroke-width="3.8" fill="none">
<path d="M99.7 688.9 H124.1 M141.4 688.9 H166.3" stroke="#0000ff"/>
<path d="M279.6 688.9 H344.0" stroke="#ff0000" stroke-dasharray="12.6 4.67"/>
</g>
<circle cx="463.2" cy="690.3" r="5.25" fill="#996633"/>
<g fill="#000">
<text font-family="'Liberation Sans', sans-serif" font-weight="bold" font-size="33" transform="translate(138.36 255.40) scale(1.0 1.03)">(</text>
<text font-family="'Liberation Sans', sans-serif" font-weight="bold" font-size="33" transform="translate(149.52 255.40) scale(0.95 1.0)">a</text>
<text font-family="'Liberation Sans', sans-serif" font-weight="bold" font-size="33" transform="translate(169.35 255.40) scale(1.0 1.03)">)</text>
<text font-family="'Liberation Sans', sans-serif" font-weight="bold" font-size="33" transform="translate(137.26 524.00) scale(1.0 1.03)">(</text>
<text font-family="'Liberation Sans', sans-serif" font-weight="bold" font-size="33" transform="translate(148.81 524.00) scale(1.0 1.0)">b</text>
<text font-family="'Liberation Sans', sans-serif" font-weight="bold" font-size="33" transform="translate(169.95 524.00) scale(1.0 1.03)">)</text>
<text font-family="'Liberation Sans', sans-serif" font-size="33.4" transform="translate(543.23 44.80) scale(1.08 1.025)">Δ</text>
<rect x="569.1" y="31.30" width="16.0" height="2.8"/>
<rect x="569.1" y="38.60" width="16.0" height="2.8"/>
<path d="M763 0H583V1147Q518 1085 412.5 1023Q307 961 223 930V1104Q374 1175 487 1276Q600 1377 647 1472H763Z" transform="translate(587.51 44.80) scale(0.01611 -0.01611)"/>
<text font-family="'Liberation Sans', sans-serif" font-size="33.4" transform="translate(605.80 44.80) scale(0.98 1.0)">0</text>
<rect x="624.95" y="24.90" width="11.75" height="2.0"/>
<text font-family="'Liberation Sans', sans-serif" font-size="24.0" transform="translate(637.48 31.70) scale(1.0 1.0)">2</text>
<text font-family="'Liberation Sans', sans-serif" font-size="33.4" transform="translate(543.23 315.40) scale(1.08 1.025)">Δ</text>
<rect x="569.1" y="301.90" width="16.0" height="2.8"/>
<rect x="569.1" y="309.20" width="16.0" height="2.8"/>
<path d="M763 0H583V1147Q518 1085 412.5 1023Q307 961 223 930V1104Q374 1175 487 1276Q600 1377 647 1472H763Z" transform="translate(587.51 315.40) scale(0.01611 -0.01611)"/>
<text font-family="'Liberation Sans', sans-serif" font-size="33.4" transform="translate(605.80 315.40) scale(0.98 1.0)">0</text>
<rect x="624.95" y="295.50" width="11.75" height="2.0"/>
<text font-family="'Liberation Sans', sans-serif" font-size="24.0" transform="translate(637.50 302.30) scale(1.0 1.0)">5</text>
</g>
</svg>
</body>
</html>
